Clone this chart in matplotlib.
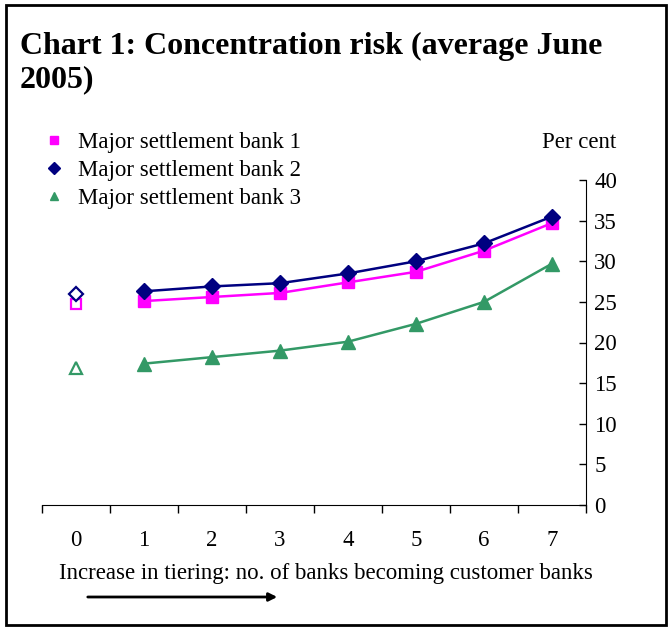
import matplotlib
matplotlib.use('Agg')
import numpy as np
from matplotlib import pyplot as plt
from matplotlib.lines import Line2D
from matplotlib.patches import Rectangle, FancyArrowPatch

plt.rcParams['font.family'] = ['Liberation Serif', 'DejaVu Serif']

# number of banks becoming customer banks
tiers = [0, 1, 2, 3, 4, 5, 6, 7]
tier_labels = ['0', '1', '2', '3', '4', '5', '6', '7']

# concentration risk, per cent
bank1 = [24.7, 25.1, 25.6, 26.1, 27.4, 28.7, 31.3, 34.7]
bank2 = [26.0, 26.3, 26.9, 27.3, 28.5, 30.0, 32.2, 35.5]
bank3 = [16.9, 17.4, 18.2, 19.0, 20.1, 22.3, 25.0, 29.7]

names = ['Major settlement bank 1', 'Major settlement bank 2', 'Major settlement bank 3']
series = [bank1, bank2, bank3]
colors = ['#ff00ff', '#000080', '#339966']
markers = ['s', 'D', '^']
msizes = [8.5, 8.5, 9.5]

fs = 16.5

fig = plt.figure(figsize=(6.71, 6.30), dpi=100)
ax = fig.add_axes([42 / 671, 125 / 630, 544 / 671, 325 / 630])

for vals, c, m, ms in zip(series, colors, markers, msizes):
    # tier 0 is shown as a hollow marker, not joined to the line
    ax.plot(tiers[:1], vals[:1], linestyle='none', marker=m, ms=ms - 1.5,
            mfc='white', mec=c, mew=1.6)
    ax.plot(tiers[1:], vals[1:], color=c, lw=1.8, marker=m, ms=ms,
            mfc=c, mec=c)

ax.set_xlim(-0.5, 7.5)
ax.set_ylim(0, 40)
ax.set_yticks(np.arange(0, 41, 5))
ax.set_xticks(np.arange(-0.5, 7.6, 1))
ax.set_xticklabels([])
ax.set_xticks(tiers, minor=True)
ax.set_xticklabels(tier_labels, minor=True)
ax.tick_params(axis='x', which='major', direction='out', length=6, width=1)
ax.tick_params(axis='x', which='minor', length=0, labelsize=fs, pad=18)
ax.yaxis.tick_right()
ax.tick_params(axis='y', direction='in', length=5, width=1, labelsize=fs, pad=6)
for side in ['top', 'left']:
    ax.spines[side].set_visible(False)

# title and labels
fig.text(20 / 671, 1 - 54 / 630, 'Chart 1: Concentration risk (average June',
         fontsize=23, fontweight='bold', va='baseline', ha='left')
fig.text(20 / 671, 1 - 87 / 630, '2005)',
         fontsize=23, fontweight='bold', va='baseline', ha='left')
fig.text(579 / 671, 1 - 143 / 630, 'Per cent', fontsize=fs, ha='center', va='center')
fig.text(326 / 671, 1 - 573 / 630,
         'Increase in tiering: no. of banks becoming customer banks',
         fontsize=fs, ha='center', va='center')

handles = [Line2D([], [], linestyle='none', marker=m, color=c, ms=6)
           for c, m in zip(colors, markers)]
fig.legend(handles, names, loc='upper left', bbox_to_anchor=(47 / 671, 1 - 132 / 630),
           frameon=False, fontsize=fs, handlelength=0.6, handletextpad=0.75,
           labelspacing=0.31, borderaxespad=0, borderpad=0)

# arrow under the axis title
fig.patches.append(FancyArrowPatch(
    (85 / 671, 1 - 597 / 630), (280 / 671, 1 - 597 / 630),
    transform=fig.transFigure, arrowstyle='-|>', mutation_scale=12,
    color='black', lw=2))

# outer frame
fig.patches.append(Rectangle((6 / 671, 5 / 630), 660 / 671, 620 / 630,
                             transform=fig.transFigure, fill=False,
                             edgecolor='black', lw=2))

fig.savefig('out.png', dpi=100)
